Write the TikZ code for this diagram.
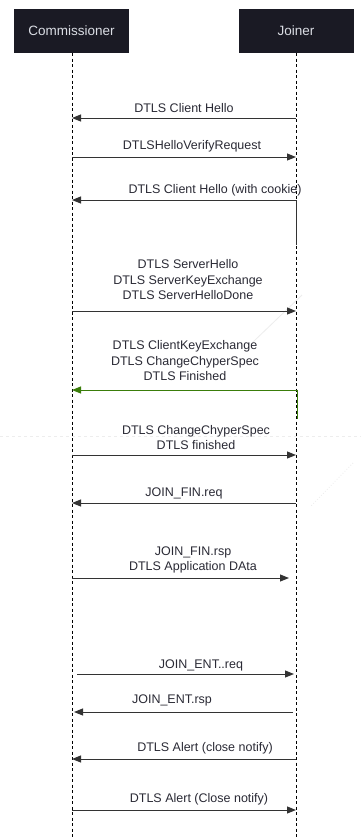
\documentclass[tikz,border=0pt]{standalone}
\usepackage{fontspec}
\setmainfont{Liberation Sans}
\usetikzlibrary{arrows.meta}
\definecolor{boxfill}{HTML}{1A1A24}
\definecolor{boxtext}{HTML}{DADDE4}
\definecolor{msgtext}{HTML}{2A2A35}
\definecolor{msgline}{HTML}{333333}
\definecolor{greenline}{HTML}{3A7D0A}
\definecolor{ghost}{HTML}{EDEDED}
\tikzset{
  actor/.style={fill=boxfill, draw=none, text=boxtext, minimum width=115pt, minimum height=44pt, inner sep=0pt, font=\fontsize{13.5}{15}\selectfont},
  lifeline/.style={draw=black, line width=0.8pt, dash pattern=on 3pt off 2.5pt},
  msg/.style={draw=msgline, line width=1pt, -{Triangle[length=9pt,width=7pt]}},
  greenmsg/.style={draw=greenline, line width=1pt, -{Triangle[length=9pt,width=7pt]}},
  lbl/.style={text=msgtext, align=center, inner sep=0pt, font=\fontsize{12.5}{15.5}\selectfont},
  ghostline/.style={draw=ghost, line width=0.8pt}
}
\begin{document}
\begin{tikzpicture}[x=1pt,y=-1pt]
\useasboundingbox (0,0) rectangle (361,839);
\fill[white] (0,0) rectangle (361,839);

% ghost artifacts
\draw[ghostline, dashed] (0,436) -- (361,436);
\draw[ghostline] (302,295) -- (253,342);
\draw[ghostline, dotted] (353,463) -- (310,507);

% actors
\node[actor] (comm) at (71.5,31) {Commissioner};
\node[actor] (join) at (296,31) {Joiner};

% lifeline ends
\coordinate (cb) at (72,839);
\coordinate (jb) at (296,839);
\draw[lifeline] (comm.south -| cb) -- (cb);
\draw[lifeline] (join.south -| jb) -- (jb);

% message end points
\coordinate (c1) at (72,118);  \coordinate (j1) at (296,118);
\coordinate (c2) at (72,157);  \coordinate (j2) at (296,157);
\coordinate (c3) at (72,200);  \coordinate (j3) at (296,200);
\coordinate (j3b) at (296,245);
\coordinate (c4) at (72,311);  \coordinate (j4) at (296,311);
\coordinate (c5) at (72,390);  \coordinate (j5) at (297,390);
\coordinate (j5b) at (297,419);
\coordinate (c6) at (72,455);  \coordinate (j6) at (296,455);
\coordinate (c7) at (72,503);  \coordinate (j7) at (296,503);
\coordinate (c8) at (72,578);  \coordinate (j8) at (289,578);
\coordinate (c9) at (77,674);  \coordinate (j9) at (294,674);
\coordinate (c10) at (74,712); \coordinate (j10) at (293,712);
\coordinate (c11) at (72,759); \coordinate (j11) at (296,759);
\coordinate (c12) at (72,810); \coordinate (j12) at (296,810);

% messages
\draw[msg] (j1) -- (c1);
\node[lbl] (l1) at (184,108) {DTLS Client Hello};

\draw[msg] (c2) -- (j2);
\node[lbl] (l2) at (192,146) {DTLSHelloVerifyRequest};

\draw[msg] (j3) -- (c3);
\draw[draw=msgline, line width=1pt] (j3) -- (j3b);
\node[lbl] (l3) at (215,190) {DTLS Client Hello (with cookie)};

\draw[msg] (c4) -- (j4);
\node[lbl] (l4) at (188,280) {DTLS ServerHello\\DTLS ServerKeyExchange\\DTLS ServerHelloDone};

\draw[greenmsg] (j5) -- (c5);
\draw[draw=greenline, line width=1pt] (j5) -- (j5b);
\node[lbl] (l5) at (185,361) {DTLS ClientKeyExchange\\DTLS ChangeChyperSpec\\DTLS Finished};

\draw[msg] (c6) -- (j6);
\node[lbl] (l6) at (196,437.5) {DTLS ChangeChyperSpec\\DTLS finished};

\draw[msg] (j7) -- (c7);
\node[lbl] (l7) at (184,493) {JOIN\_FIN.req};

\draw[msg] (c8) -- (j8);
\node[lbl] (l8) at (193,560) {JOIN\_FIN.rsp\\DTLS Application DAta};

\draw[msg] (c9) -- (j9);
\node[lbl] (l9) at (201,665) {JOIN\_ENT..req};

\draw[msg] (j10) -- (c10);
\node[lbl] (l10) at (172,700) {JOIN\_ENT.rsp};

\draw[msg] (j11) -- (c11);
\node[lbl] (l11) at (205,748) {DTLS Alert (close notify)};

\draw[msg] (c12) -- (j12);
\node[lbl] (l12) at (199,799) {DTLS Alert (Close notify)};
\end{tikzpicture}
\end{document}
